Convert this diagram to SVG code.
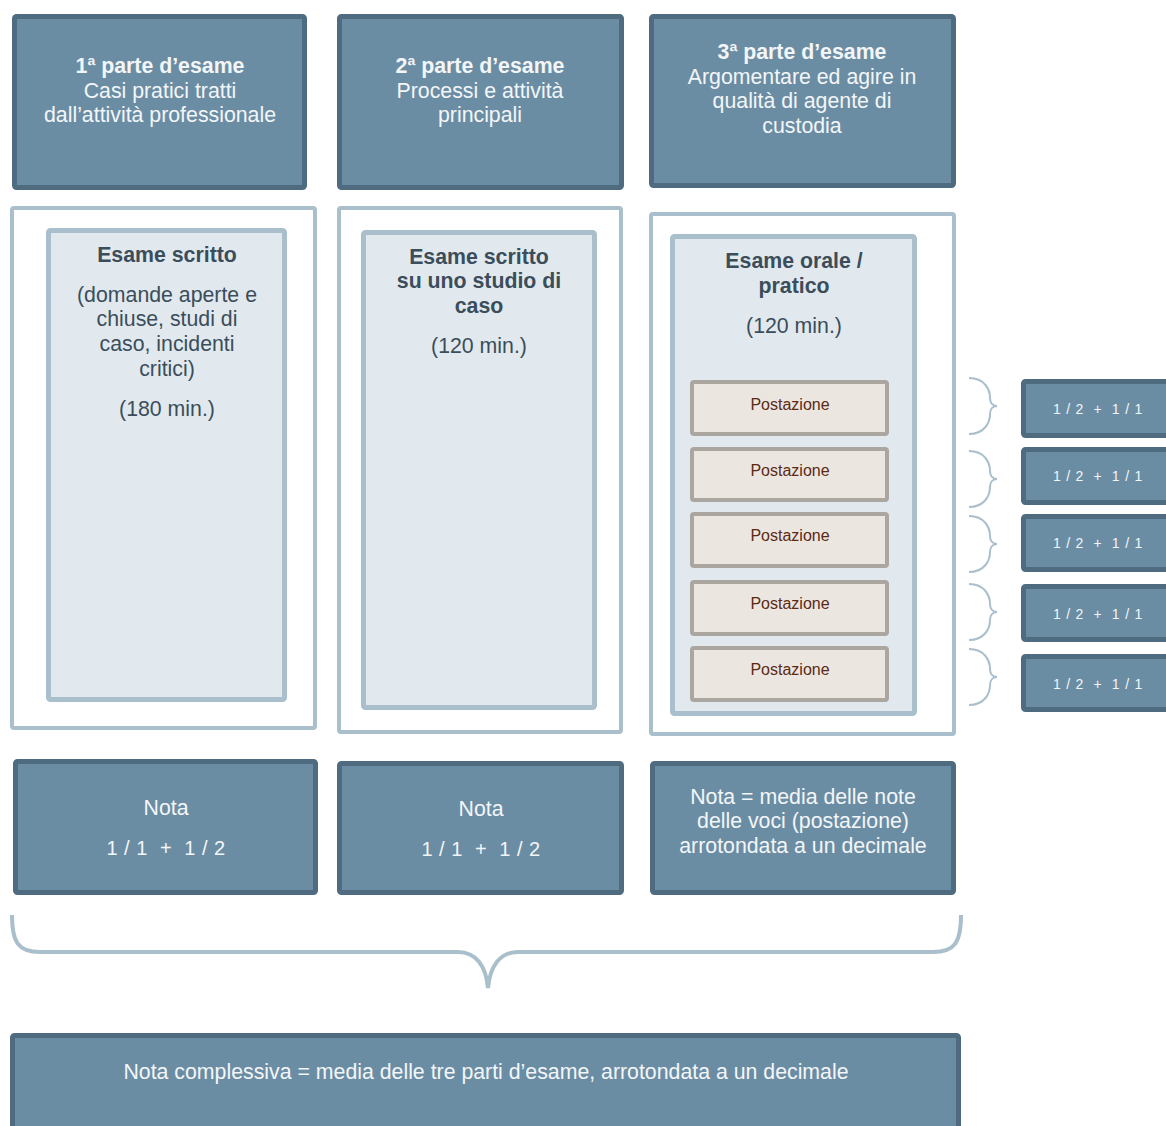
<svg xmlns="http://www.w3.org/2000/svg" width="1166" height="1126" viewBox="0 0 1166 1126">
<style>
.dk{fill:#6b8da4;stroke:#4f6b80;stroke-width:5}
.outer{fill:#ffffff;stroke:#a9bfcc;stroke-width:4}
.inner{fill:#e1e9ee;stroke:#a9bfcc;stroke-width:5}
.post{fill:#ebe6e0;stroke:#aba69f;stroke-width:4}
.br{fill:none;stroke:#a9bfcc;stroke-width:2}
.bbr{fill:none;stroke:#a9bfcc;stroke-width:4}
text{font-family:"Liberation Sans",Arial,sans-serif;text-anchor:middle}
.wt{fill:#f3f6f8;font-size:21.3px}
.wb{fill:#f3f6f8;font-size:21.3px;font-weight:bold}
.pt{fill:#3b4d5a;font-size:21.3px}
.pb{fill:#3b4d5a;font-size:21.3px;font-weight:bold}
.ps{fill:#5b2a14;font-size:16px}
.rt{fill:#f3f6f8;font-size:14px;letter-spacing:0.8px}
.nt{fill:#f3f6f8;font-size:21.3px}
.nn{fill:#f3f6f8;font-size:20px;letter-spacing:0.5px}
</style>
<g id="header1"><rect class="dk" x="14.5" y="16.5" width="290" height="171" rx="2"/>
<text class="wb" x="160" y="73">1ª parte d’esame</text>
<text class="wt" x="160" y="98">Casi pratici tratti</text>
<text class="wt" x="160" y="122">dall’attività professionale</text></g>
<g id="header2"><rect class="dk" x="339.5" y="16.5" width="282" height="171" rx="2"/>
<text class="wb" x="480" y="73">2ª parte d’esame</text>
<text class="wt" x="480" y="98">Processi e attività</text>
<text class="wt" x="480" y="122">principali</text></g>
<g id="header3"><rect class="dk" x="651.5" y="16.5" width="302" height="169" rx="2"/>
<text class="wb" x="802" y="59">3ª parte d’esame</text>
<text class="wt" x="802" y="84">Argomentare ed agire in</text>
<text class="wt" x="802" y="108">qualità di agente di</text>
<text class="wt" x="802" y="133">custodia</text></g>

<g id="panel1"><rect class="outer" x="12" y="208" width="303" height="520" rx="2"/>
<rect class="inner" x="48.5" y="230.5" width="236" height="469" rx="2"/>
<text class="pb" x="167" y="262">Esame scritto</text>
<text class="pt" x="167" y="302">(domande aperte e</text>
<text class="pt" x="167" y="326">chiuse, studi di</text>
<text class="pt" x="167" y="351">caso, incidenti</text>
<text class="pt" x="167" y="376">critici)</text>
<text class="pt" x="167" y="416">(180 min.)</text></g>
<g id="panel2"><rect class="outer" x="339" y="208" width="282" height="524" rx="2"/>
<rect class="inner" x="363.5" y="232.5" width="231" height="475" rx="2"/>
<text class="pb" x="479" y="264">Esame scritto</text>
<text class="pb" x="479" y="288">su uno studio di</text>
<text class="pb" x="479" y="313">caso</text>
<text class="pt" x="479" y="353">(120 min.)</text></g>
<g id="panel3"><rect class="outer" x="651" y="214" width="303" height="520" rx="2"/>
<rect class="inner" x="672.5" y="236.5" width="242" height="477" rx="2"/>
<text class="pb" x="794" y="268">Esame orale /</text>
<text class="pb" x="794" y="293">pratico</text>
<text class="pt" x="794" y="333">(120 min.)</text></g>

<g id="post1"><rect class="post" x="692" y="382" width="195" height="52" rx="2"/><text class="ps" x="790" y="410">Postazione</text></g>
<g id="post2"><rect class="post" x="692" y="449" width="195" height="51" rx="2"/><text class="ps" x="790" y="476">Postazione</text></g>
<g id="post3"><rect class="post" x="692" y="514" width="195" height="52" rx="2"/><text class="ps" x="790" y="541">Postazione</text></g>
<g id="post4"><rect class="post" x="692" y="582" width="195" height="52" rx="2"/><text class="ps" x="790" y="609">Postazione</text></g>
<g id="post5"><rect class="post" x="692" y="648" width="195" height="52" rx="2"/><text class="ps" x="790" y="675">Postazione</text></g>

<g id="score1"><rect class="dk" x="1023.5" y="381.5" width="150" height="54" rx="2"/><text class="rt" x="1098" y="414">1 / 2 &#160;+&#160; 1 / 1</text></g>
<g id="score2"><rect class="dk" x="1023.5" y="449.5" width="150" height="53" rx="2"/><text class="rt" x="1098" y="481">1 / 2 &#160;+&#160; 1 / 1</text></g>
<g id="score3"><rect class="dk" x="1023.5" y="516.5" width="150" height="53" rx="2"/><text class="rt" x="1098" y="548">1 / 2 &#160;+&#160; 1 / 1</text></g>
<g id="score4"><rect class="dk" x="1023.5" y="586.5" width="150" height="53" rx="2"/><text class="rt" x="1098" y="619">1 / 2 &#160;+&#160; 1 / 1</text></g>
<g id="score5"><rect class="dk" x="1023.5" y="656.5" width="150" height="53" rx="2"/><text class="rt" x="1098" y="689">1 / 2 &#160;+&#160; 1 / 1</text></g>

<g id="nota1"><rect class="dk" x="15.5" y="761.5" width="300" height="131" rx="2"/>
<text class="nt" x="166" y="815">Nota</text>
<text class="nn" x="166" y="855">1 / 1 &#160;+&#160; 1 / 2</text></g>
<g id="nota2"><rect class="dk" x="339.5" y="763.5" width="282" height="129" rx="2"/>
<text class="nt" x="481" y="816">Nota</text>
<text class="nn" x="481" y="856">1 / 1 &#160;+&#160; 1 / 2</text></g>
<g id="nota3"><rect class="dk" x="652.5" y="763.5" width="301" height="129" rx="2"/>
<text class="wt" x="803" y="804">Nota = media delle note</text>
<text class="wt" x="803" y="828">delle voci (postazione)</text>
<text class="wt" x="803" y="853">arrotondata a un decimale</text></g>

<g id="total"><rect class="dk" x="12.5" y="1035.5" width="946" height="100" rx="2"/>
<text class="wt" x="486" y="1079">Nota complessiva = media delle tre parti d’esame, arrotondata a un decimale</text></g>

<g id="connectors">
<path class="br" d="M969,378 C985,378 990,390 990,398 C990,403 993,406 997,406 C993,406 990,409 990,414 C990,422 985,434 969,434"/>
<path class="br" d="M969,451 C985,451 990,463 990,471 C990,476 993,479 997,479 C993,479 990,482 990,487 C990,495 985,507 969,507"/>
<path class="br" d="M969,516 C985,516 990,528 990,536 C990,541 993,544 997,544 C993,544 990,547 990,552 C990,560 985,572 969,572"/>
<path class="br" d="M969,584 C985,584 990,596 990,604 C990,609 993,612 997,612 C993,612 990,615 990,620 C990,628 985,640 969,640"/>
<path class="br" d="M969,649 C985,649 990,661 990,669 C990,674 993,677 997,677 C993,677 990,680 990,685 C990,693 985,705 969,705"/>
<path class="bbr" d="M12,915 C12,942 18,952 40,952 L458,952 C476,952 486,966 488,988 C490,966 500,952 518,952 L933,952 C955,952 961,942 961,915"/>
</g>
</svg>
